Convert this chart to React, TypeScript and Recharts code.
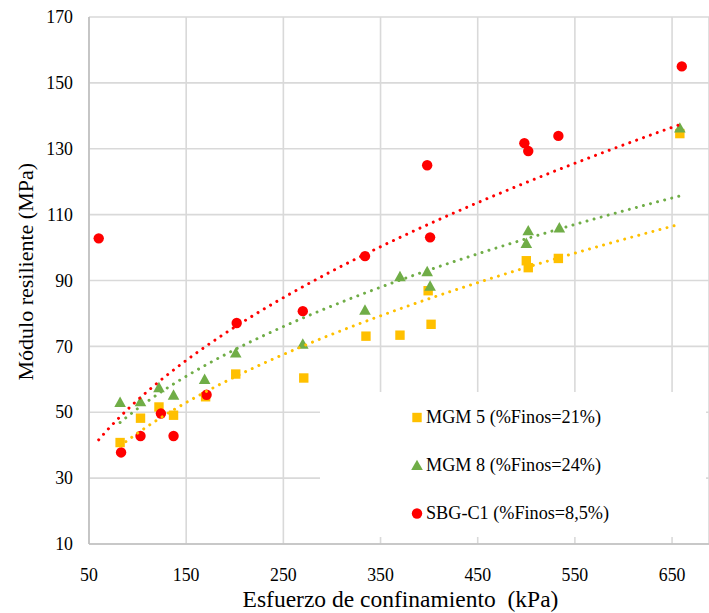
import React from 'react';
import { ScatterChart, Scatter, XAxis, YAxis, CartesianGrid, Legend, Label } from 'recharts';

// ---- Data ----
const xMgm5 = [82, 103, 122, 137, 170, 201, 271, 335, 370, 399, 402, 500, 502, 533, 658];
const yMgm5 = [40.8, 48.2, 51.6, 49.1, 54.7, 61.6, 60.4, 73.1, 73.4, 86.9, 76.7, 96.0, 93.9, 96.7, 134.6];

const xMgm8 = [82, 103, 122, 137, 169, 201, 270, 334, 370, 398, 401, 500, 502, 534, 658];
const yMgm8 = [53.0, 53.2, 57.5, 55.2, 60.0, 68.0, 70.7, 81.0, 91.2, 92.7, 88.3, 101.3, 105.1, 106.0, 136.3];

const xSbg = [60, 83, 103, 124, 137, 171, 202, 270, 334, 398, 401, 498, 502, 533, 660];
const ySbg = [102.8, 37.8, 42.8, 49.6, 42.8, 55.3, 77.1, 80.7, 97.4, 125.0, 103.1, 131.7, 129.3, 133.9, 155.0];

const seriesNames = ['MGM 5 (%Finos=21%)', 'MGM 8 (%Finos=24%)', 'SBG-C1 (%Finos=8,5%)'];
const seriesColors = ['#FFC000', '#70AD47', '#FF0000'];

const xTicks = [50, 150, 250, 350, 450, 550, 650];
const yTicks = [10, 30, 50, 70, 90, 110, 130, 150, 170];

const xTitle = 'Esfuerzo de confinamiento  (kPa)';
const yTitle = 'Módulo resiliente (MPa)';

// ---- helpers ----
const toPoints = (xs: number[], ys: number[]) => xs.map((x, i) => ({ x, y: ys[i] }));

// Power-law trendline (least squares in log-log space, like Excel)
function powerTrend(xs: number[], ys: number[], n = 120) {
  const lx = xs.map(Math.log);
  const ly = ys.map(Math.log);
  const mx = lx.reduce((a, b) => a + b, 0) / lx.length;
  const my = ly.reduce((a, b) => a + b, 0) / ly.length;
  let sxy = 0;
  let sxx = 0;
  for (let i = 0; i < lx.length; i++) {
    sxy += (lx[i] - mx) * (ly[i] - my);
    sxx += (lx[i] - mx) * (lx[i] - mx);
  }
  const b = sxy / sxx;
  const a = Math.exp(my - b * mx);
  const x0 = Math.min(...xs);
  const x1 = Math.max(...xs);
  const pts: { x: number; y: number }[] = [];
  for (let i = 0; i <= n; i++) {
    const x = x0 + ((x1 - x0) * i) / n;
    pts.push({ x, y: a * Math.pow(x, b) });
  }
  return pts;
}

const FONT = 'Liberation Serif, Times New Roman, serif';

const Square = (props: any) => {
  const { cx, cy, fill } = props;
  if (cx == null || cy == null) return <g />;
  return <rect x={cx - 4.7} y={cy - 4.7} width={9.4} height={9.4} fill={fill} />;
};
const Triangle = (props: any) => {
  const { cx, cy, fill } = props;
  if (cx == null || cy == null) return <g />;
  return <path d={`M${cx},${cy - 5.8} L${cx + 5.8},${cy + 4.6} L${cx - 5.8},${cy + 4.6} Z`} fill={fill} />;
};
const Circle = (props: any) => {
  const { cx, cy, fill } = props;
  if (cx == null || cy == null) return <g />;
  return <circle cx={cx} cy={cy} r={5.2} fill={fill} />;
};
const Nothing = () => <g />;

const markerShapes = [Square, Triangle, Circle];

const XTick = (props: any) => {
  const { x, y, payload } = props;
  return (
    <text x={x} y={y + 28.5} textAnchor="middle" fontFamily={FONT} fontSize={17.8} fill="#000">
      {payload.value}
    </text>
  );
};
const YTick = (props: any) => {
  const { x, y, payload } = props;
  return (
    <text x={73} y={y + 6.2} textAnchor="end" fontFamily={FONT} fontSize={17.8} fill="#000">
      {payload.value}
    </text>
  );
};

const LegendContent = () => (
  <div
    style={{
      width: 386,
      height: 145,
      background: '#ffffff',
      fontFamily: FONT,
      fontSize: 18.2,
      color: '#000',
      position: 'relative',
    }}
  >
    {seriesNames.map((name, i) => {
      const Shape = markerShapes[i];
      return (
        <div
          key={name}
          style={{
            position: 'absolute',
            left: 90,
            top: 25 + i * 48 - 12,
            height: 24,
            display: 'flex',
            alignItems: 'center',
            whiteSpace: 'nowrap',
          }}
        >
          <svg width={14} height={14} style={{ marginRight: 2 }}>
            <Shape cx={7} cy={7.5} fill={seriesColors[i]} />
          </svg>
          <span>{name}</span>
        </div>
      );
    })}
  </div>
);

export default function App() {
  const d5 = toPoints(xMgm5, yMgm5);
  const d8 = toPoints(xMgm8, yMgm8);
  const dS = toPoints(xSbg, ySbg);
  const t5 = powerTrend(xMgm5, yMgm5);
  const t8 = powerTrend(xMgm8, yMgm8);
  const tS = powerTrend(xSbg, ySbg);

  const trendLine = (color: string) => ({
    stroke: color,
    strokeWidth: 3,
    strokeDasharray: '0.01 7.3',
    strokeLinecap: 'round' as const,
    fill: 'none',
  });

  return (
    <div style={{ position: 'fixed', left: 0, top: 0, width: 709, height: 613, background: '#fff' }}>
      <ScatterChart width={709} height={613} margin={{ top: 17, right: 0, bottom: 0, left: 0 }}>
        <CartesianGrid stroke="#D9D9D9" strokeWidth={1.6} />
        <XAxis
          type="number"
          dataKey="x"
          domain={[50, 688]}
          ticks={xTicks}
          allowDataOverflow
          height={69}
          tickLine={false}
          axisLine={{ stroke: '#BFBFBF', strokeWidth: 1.6 }}
          tick={<XTick />}
        >
          <Label
            content={() => (
              <text
                x={400.5}
                y={607}
                textAnchor="middle"
                fontFamily={FONT}
                fontSize={23.5}
                fill="#000"
                style={{ whiteSpace: 'pre' }}
              >
                {xTitle}
              </text>
            )}
          />
        </XAxis>
        <YAxis
          type="number"
          dataKey="y"
          domain={[10, 170]}
          ticks={yTicks}
          allowDataOverflow
          width={89}
          tickLine={false}
          axisLine={{ stroke: '#BFBFBF', strokeWidth: 1.6 }}
          tick={<YTick />}
        >
          <Label
            content={() => (
              <text
                x={33}
                y={271.7}
                transform="rotate(-90, 33, 271.7)"
                textAnchor="middle"
                fontFamily={FONT}
                fontSize={22}
                fill="#000"
              >
                {yTitle}
              </text>
            )}
          />
        </YAxis>
        <Legend
          content={<LegendContent />}
          layout="horizontal"
          verticalAlign="middle"
          align="center"
          wrapperStyle={{ position: 'absolute', left: 320, top: 392, width: 386, height: 145 }}
        />
        <Scatter name={seriesNames[0]} data={d5} fill={seriesColors[0]} shape={Square} isAnimationActive={false} />
        <Scatter name={seriesNames[1]} data={d8} fill={seriesColors[1]} shape={Triangle} isAnimationActive={false} />
        <Scatter name={seriesNames[2]} data={dS} fill={seriesColors[2]} shape={Circle} isAnimationActive={false} />
        <Scatter
          name="trend5"
          data={t5}
          fill={seriesColors[0]}
          shape={Nothing}
          line={trendLine(seriesColors[0])}
          lineType="joint"
          legendType="none"
          isAnimationActive={false}
        />
        <Scatter
          name="trend8"
          data={t8}
          fill={seriesColors[1]}
          shape={Nothing}
          line={trendLine(seriesColors[1])}
          lineType="joint"
          legendType="none"
          isAnimationActive={false}
        />
        <Scatter
          name="trendS"
          data={tS}
          fill={seriesColors[2]}
          shape={Nothing}
          line={trendLine(seriesColors[2])}
          lineType="joint"
          legendType="none"
          isAnimationActive={false}
        />
      </ScatterChart>
    </div>
  );
}
